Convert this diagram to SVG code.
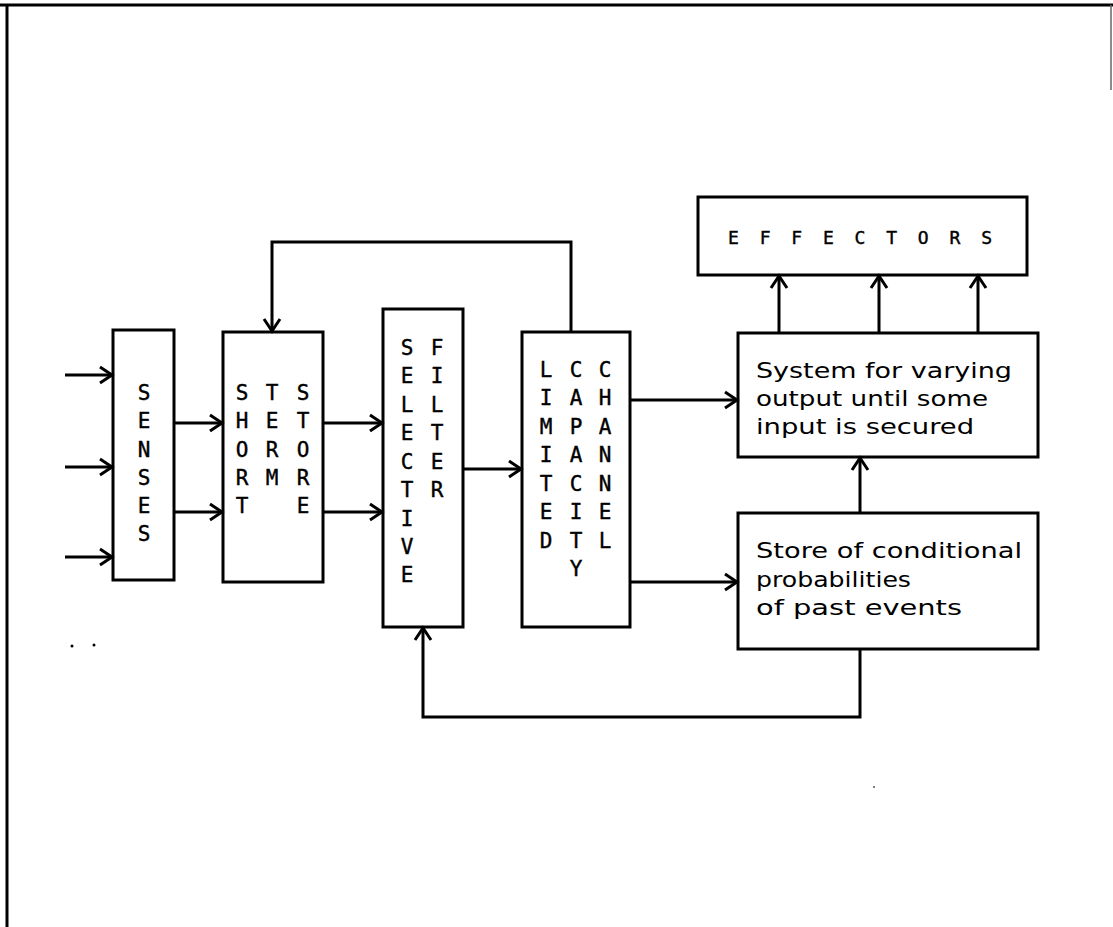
<svg xmlns="http://www.w3.org/2000/svg" width="1113" height="927" viewBox="0 0 1113 927">
<style>
.box{fill:none;stroke:#000;stroke-width:3}
.ln{fill:none;stroke:#000;stroke-width:3;marker-end:url(#arr)}
.cap{font-family:"DejaVu Sans Mono","Liberation Mono",monospace;font-size:21px;fill:#000;stroke:#000;stroke-width:0.4;text-anchor:middle}
.txt{font-family:"DejaVu Sans","Liberation Sans",sans-serif;font-size:22px;fill:#000}
</style>
<defs>
<marker id="arr" markerUnits="userSpaceOnUse" markerWidth="30" markerHeight="30" refX="0" refY="0" viewBox="-15 -15 30 30" orient="auto" overflow="visible">
<path d="M-12,-8 L0,0 L-12,8" fill="none" stroke="#000" stroke-width="3"/>
</marker>
</defs>
<rect width="1113" height="927" fill="#fff"/>
<g id="frame">
<line x1="0" y1="5" x2="1113" y2="5" stroke="#000" stroke-width="3"/>
<line x1="7" y1="4" x2="7" y2="927" stroke="#000" stroke-width="3"/>
<line x1="1111" y1="5" x2="1111" y2="90" stroke="#666" stroke-width="1.5"/>
<circle cx="72" cy="646" r="1.5" fill="#000"/>
<circle cx="94" cy="645" r="1.5" fill="#000"/>
<circle cx="874" cy="787" r="1" fill="#555"/>
</g>
<g id="connectors">
<path class="ln" d="M65,375 H112"/>
<path class="ln" d="M65,467 H112"/>
<path class="ln" d="M65,557 H112"/>
<path class="ln" d="M174,423 H222"/>
<path class="ln" d="M174,512 H222"/>
<path class="ln" d="M323,423 H382"/>
<path class="ln" d="M323,512 H382"/>
<path class="ln" d="M463,469 H521"/>
<path class="ln" d="M571,332 V242 H272 V331"/>
<path class="ln" d="M630,400 H737"/>
<path class="ln" d="M630,582 H737"/>
<path class="ln" d="M779,333 V276"/>
<path class="ln" d="M879,333 V276"/>
<path class="ln" d="M978,333 V276"/>
<path class="ln" d="M860,513 V458"/>
<path class="ln" d="M860,649 V717 H423 V628"/>
</g>
<g id="senses">
<rect class="box" x="113" y="330" width="61" height="250"/>
<text class="cap"><tspan x="144" y="400">S</tspan><tspan x="144" y="428">E</tspan><tspan x="144" y="457">N</tspan><tspan x="144" y="485">S</tspan><tspan x="144" y="513">E</tspan><tspan x="144" y="541">S</tspan></text>
</g>
<g id="short-term-store">
<rect class="box" x="223" y="332" width="100" height="250"/>
<text class="cap"><tspan x="242" y="400">S</tspan><tspan x="242" y="428">H</tspan><tspan x="242" y="457">O</tspan><tspan x="242" y="485">R</tspan><tspan x="242" y="513">T</tspan></text>
<text class="cap"><tspan x="272" y="400">T</tspan><tspan x="272" y="428">E</tspan><tspan x="272" y="457">R</tspan><tspan x="272" y="485">M</tspan></text>
<text class="cap"><tspan x="303" y="400">S</tspan><tspan x="303" y="428">T</tspan><tspan x="303" y="457">O</tspan><tspan x="303" y="485">R</tspan><tspan x="303" y="513">E</tspan></text>
</g>
<g id="selective-filter">
<rect class="box" x="383" y="309" width="80" height="318"/>
<text class="cap"><tspan x="407" y="355">S</tspan><tspan x="407" y="383">E</tspan><tspan x="407" y="412">L</tspan><tspan x="407" y="440">E</tspan><tspan x="407" y="469">C</tspan><tspan x="407" y="497">T</tspan><tspan x="407" y="526">I</tspan><tspan x="407" y="554">V</tspan><tspan x="407" y="582">E</tspan></text>
<text class="cap"><tspan x="437" y="355">F</tspan><tspan x="437" y="383">I</tspan><tspan x="437" y="412">L</tspan><tspan x="437" y="440">T</tspan><tspan x="437" y="469">E</tspan><tspan x="437" y="497">R</tspan></text>
</g>
<g id="limited-capacity-channel">
<rect class="box" x="522" y="332" width="108" height="295"/>
<text class="cap"><tspan x="546" y="377">L</tspan><tspan x="546" y="405">I</tspan><tspan x="546" y="434">M</tspan><tspan x="546" y="462">I</tspan><tspan x="546" y="491">T</tspan><tspan x="546" y="519">E</tspan><tspan x="546" y="548">D</tspan></text>
<text class="cap"><tspan x="576" y="377">C</tspan><tspan x="576" y="405">A</tspan><tspan x="576" y="434">P</tspan><tspan x="576" y="462">A</tspan><tspan x="576" y="491">C</tspan><tspan x="576" y="519">I</tspan><tspan x="576" y="548">T</tspan><tspan x="576" y="576">Y</tspan></text>
<text class="cap"><tspan x="605" y="377">C</tspan><tspan x="605" y="405">H</tspan><tspan x="605" y="434">A</tspan><tspan x="605" y="462">N</tspan><tspan x="605" y="491">N</tspan><tspan x="605" y="519">E</tspan><tspan x="605" y="548">L</tspan></text>
</g>
<g id="effectors">
<rect class="box" x="698" y="197" width="329" height="78"/>
<text class="cap" style="font-size:18px;text-anchor:start" x="728" y="244" textLength="264" lengthAdjust="spacing">EFFECTORS</text>
</g>
<g id="system">
<rect class="box" x="738" y="333" width="300" height="124"/>
<text class="txt" x="756" y="378" textLength="256" lengthAdjust="spacingAndGlyphs">System for varying</text>
<text class="txt" x="756" y="406" textLength="232" lengthAdjust="spacingAndGlyphs">output until some</text>
<text class="txt" x="756" y="434" textLength="218" lengthAdjust="spacingAndGlyphs">input is secured</text>
</g>
<g id="store">
<rect class="box" x="738" y="513" width="300" height="136"/>
<text class="txt" x="756" y="558" textLength="266" lengthAdjust="spacingAndGlyphs">Store of conditional</text>
<text class="txt" x="756" y="587" textLength="155" lengthAdjust="spacingAndGlyphs">probabilities</text>
<text class="txt" x="756" y="615" textLength="206" lengthAdjust="spacingAndGlyphs">of past events</text>
</g>
</svg>
